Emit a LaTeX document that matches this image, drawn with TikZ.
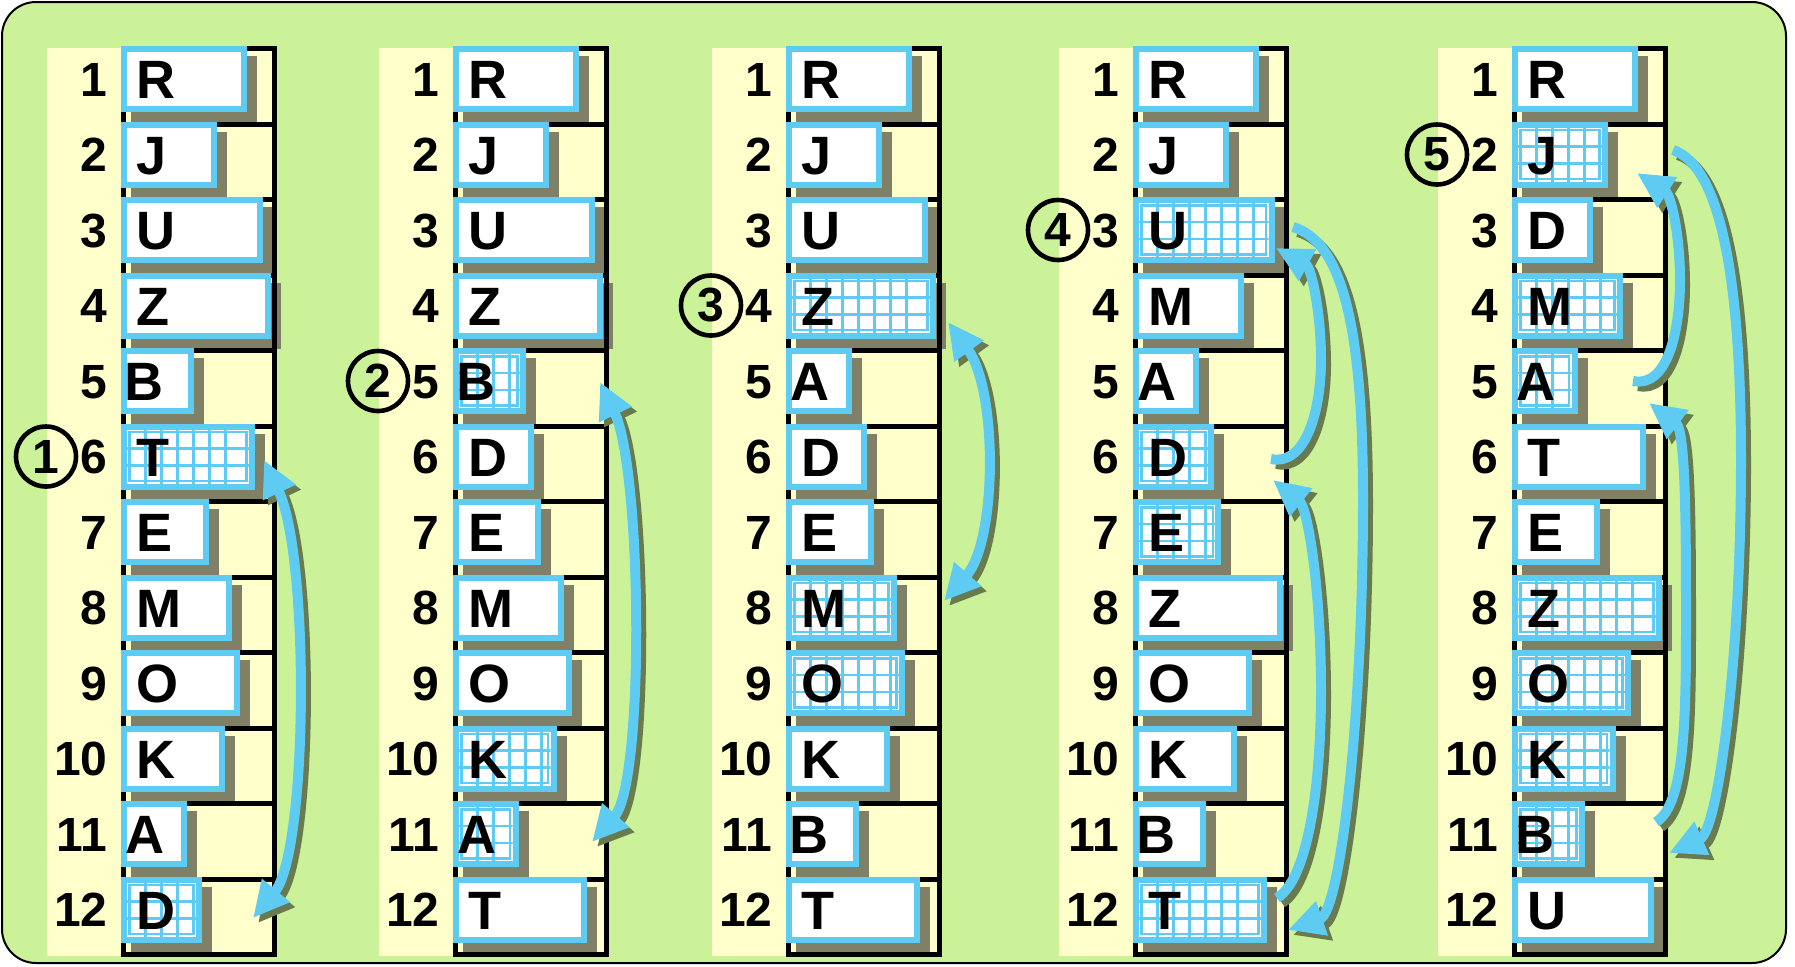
\documentclass[tikz,border=0pt]{standalone}
\usepackage{fontspec}
\setmainfont{Liberation Sans}
\usetikzlibrary{arrows.meta}
\definecolor{bggreen}{RGB}{204,242,153}
\definecolor{ylw}{RGB}{255,255,204}
\definecolor{blu}{RGB}{94,204,242}
\definecolor{shd}{RGB}{128,128,102}
\definecolor{ashd}{RGB}{104,122,78}
\newcommand\NumFnt{\fontsize{24}{24}\selectfont\bfseries}
\newcommand\LetFnt{\fontsize{27}{27}\selectfont\bfseries}
% box widths (px) per letter
\def\bwA{65.6}\def\bwB{73.2}\def\bwD{80.8}\def\bwE{88.4}\def\bwJ{96}\def\bwK{103.6}
\def\bwM{111.2}\def\bwO{118.8}\def\bwR{126.4}\def\bwT{134}\def\bwU{141.6}\def\bwZ{150}
% letter offsets
\def\boA{4}\def\boB{3}\def\boD{15}\def\boE{15}\def\boJ{15}\def\boK{15}
\def\boM{15}\def\boO{15}\def\boR{15}\def\boT{15}\def\boU{15}\def\boZ{15}
\tikzset{
  cellshadow/.style={fill=shd},
  cellborder/.style={draw=blu, line width=3pt},
  gridline/.style={draw=blu, line width=1.25pt},
  numlabel/.style={anchor=base east, inner sep=0pt, font=\NumFnt},
  letlabel/.style={anchor=base west, inner sep=0pt, font=\LetFnt},
  stepcircle/.style={draw, circle, line width=2.3pt, minimum size=30pt, inner sep=0pt, font=\NumFnt},
  swaparrow/.style={line width=5pt, draw=blu, {Triangle[length=18pt,width=17pt]}-{Triangle[length=18pt,width=17pt]}},
  movearrow/.style={line width=5pt, draw=blu, -{Triangle[length=18pt,width=17pt]}},
  arrowshadow/.style={draw=ashd, transform canvas={shift={(5,5)}}},
}
\newcommand\drawcolumn[3]{%
  \fill[ylw] (#2-74,48) rectangle (#2+156,956);
  \foreach \cLet/\cHat [count=\cRow] in {#3} {
    \pgfmathsetmacro\ty{46+(\cRow-1)*75.5}
    \edef\bw{\csname bw\cLet\endcsname}
    \fill[cellshadow] (#2+10,\ty+10) rectangle ++(\bw,66);
  }
  \foreach \k in {0,...,12} { \fill (#2,46+\k*75.5) rectangle ++(156,5); }
  \fill (#2,46) rectangle (#2+5,957);
  \fill (#2+151,46) rectangle (#2+156,957);
  \foreach \cLet/\cHat [count=\cRow] in {#3} {
    \pgfmathsetmacro\ty{46+(\cRow-1)*75.5}
    \edef\bw{\csname bw\cLet\endcsname}
    \edef\bo{\csname bo\cLet\endcsname}
    \fill[white] (#2,\ty) rectangle ++(\bw,66);
    \ifnum\cHat=1
      \begin{scope}
        \clip (#2+6,\ty+6) rectangle ++(\bw-12,54);
        \draw[gridline] (#2+8.5,\ty+8.5) rectangle (#2+\bw-8.5,\ty+57.5);
        \draw[gridline] (#2+6,\ty+25.2) -- ++(\bw,0) (#2+6,\ty+41.8) -- ++(\bw,0);
        \pgfmathsetmacro\wm{\bw-14}
        \foreach \xx in {24.5,40.5,...,152.5} {
          \ifdim\xx pt<\wm pt \draw[gridline] (#2+\xx,\ty) -- ++(0,66); \fi
        }
      \end{scope}
    \fi
    \draw[cellborder] (#2+3,\ty+3) rectangle ++(\bw-6,60);
    \node[letlabel] (L#1-\cRow) at (#2+\bo,\ty+52.5) {\cLet};
    \node[numlabel] (N#1-\cRow) at (#2-13,\ty+50) {\cRow};
  }
}
\begin{document}
\begin{tikzpicture}[x=0.5pt,y=-0.5pt]
\useasboundingbox (0,0) rectangle (1795,966);
\draw[line width=1pt, fill=bggreen, rounded corners=17pt] (2,2) rectangle (1786,963);

\drawcolumn{1}{121}{R/0,J/0,U/0,Z/0,B/0,T/1,E/0,M/0,O/0,K/0,A/0,D/1}
\drawcolumn{2}{453}{R/0,J/0,U/0,Z/0,B/1,D/0,E/0,M/0,O/0,K/1,A/1,T/0}
\drawcolumn{3}{786}{R/0,J/0,U/0,Z/1,A/0,D/0,E/0,M/1,O/1,K/0,B/0,T/0}
\drawcolumn{4}{1133}{R/0,J/0,U/1,M/0,A/0,D/1,E/1,Z/0,O/0,K/0,B/0,T/1}
\drawcolumn{5}{1512}{R/0,J/1,D/0,M/1,A/1,T/0,E/0,Z/1,O/1,K/1,B/1,U/0}

\node[stepcircle] (S1) at (46,456.5) {1};
\node[stepcircle] (S2) at (378,381) {2};
\node[stepcircle] (S3) at (711,305.5) {3};
\node[stepcircle] (S4) at (1058,230) {4};
\node[stepcircle] (S5) at (1437,154.5) {5};

% arrow end points
\coordinate (a1s) at (264,460);  \coordinate (a1e) at (253,918);
\coordinate (a2s) at (600,382);  \coordinate (a2e) at (592,842);
\coordinate (a3s) at (948,322);  \coordinate (a3e) at (944,601);
\coordinate (a4s) at (1271,459); \coordinate (a4e) at (1276,248);
\coordinate (b4s) at (1293,227); \coordinate (b4e) at (1288,930);
\coordinate (c4s) at (1277,898); \coordinate (c4e) at (1273,480);
\coordinate (d5s) at (1633,381); \coordinate (d5e) at (1637,173);
\coordinate (e5s) at (1673,150); \coordinate (e5e) at (1669,853);
\coordinate (f5s) at (1656,822); \coordinate (f5e) at (1649,403);

% shadows
\draw[swaparrow, arrowshadow] (a1s) .. controls (310,557) and (308,852) .. (a1e);
\draw[swaparrow, arrowshadow] (a2s) .. controls (642,470) and (645,782) .. (a2e);
\draw[swaparrow, arrowshadow] (a3s) .. controls (998,391) and (997,541) .. (a3e);
\draw[movearrow, arrowshadow] (a4s) .. controls (1306,466) and (1321,410) .. (1321,360) .. controls (1321,310) and (1311,267) .. (a4e);
\draw[movearrow, arrowshadow] (b4s) .. controls (1343,242) and (1363,330) .. (1363,500) .. controls (1363,720) and (1340,912) .. (b4e);
\draw[movearrow, arrowshadow] (c4s) .. controls (1307,880) and (1321,790) .. (1321,690) .. controls (1321,590) and (1308,508) .. (c4e);
\draw[movearrow, arrowshadow] (d5s) .. controls (1668,388) and (1680,330) .. (1680,280) .. controls (1680,235) and (1671,195) .. (d5e);
\draw[movearrow, arrowshadow] (e5s) .. controls (1723,167) and (1741,290) .. (1741,460) .. controls (1741,660) and (1718,831) .. (e5e);
\draw[movearrow, arrowshadow] (f5s) .. controls (1686,804) and (1686,712) .. (1686,612) .. controls (1686,512) and (1685,430) .. (f5e);
% arrows
\draw[swaparrow] (a1s) .. controls (310,557) and (308,852) .. (a1e);
\draw[swaparrow] (a2s) .. controls (642,470) and (645,782) .. (a2e);
\draw[swaparrow] (a3s) .. controls (998,391) and (997,541) .. (a3e);
\draw[movearrow] (a4s) .. controls (1306,466) and (1321,410) .. (1321,360) .. controls (1321,310) and (1311,267) .. (a4e);
\draw[movearrow] (b4s) .. controls (1343,242) and (1363,330) .. (1363,500) .. controls (1363,720) and (1340,912) .. (b4e);
\draw[movearrow] (c4s) .. controls (1307,880) and (1321,790) .. (1321,690) .. controls (1321,590) and (1308,508) .. (c4e);
\draw[movearrow] (d5s) .. controls (1668,388) and (1680,330) .. (1680,280) .. controls (1680,235) and (1671,195) .. (d5e);
\draw[movearrow] (e5s) .. controls (1723,167) and (1741,290) .. (1741,460) .. controls (1741,660) and (1718,831) .. (e5e);
\draw[movearrow] (f5s) .. controls (1686,804) and (1686,712) .. (1686,612) .. controls (1686,512) and (1685,430) .. (f5e);
\end{tikzpicture}
\end{document}
